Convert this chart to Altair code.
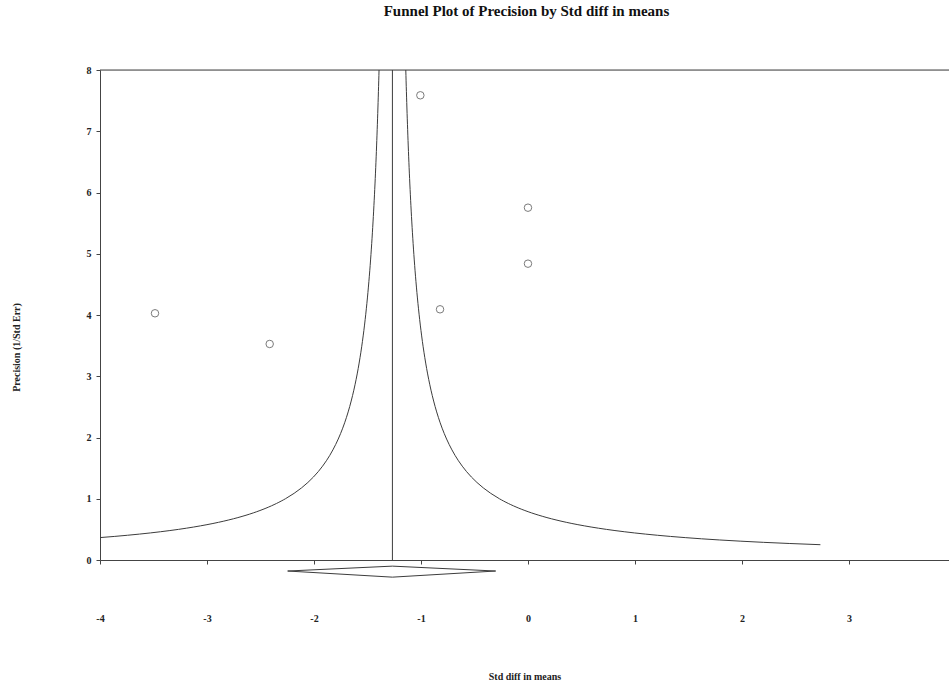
import altair as alt
import pandas as pd
import numpy as np

# Study points
std_diff = [-3.486, -2.414, -1.006, -0.822, 0.0, 0.0]
precision = [4.028, 3.527, 7.587, 4.093, 5.752, 4.838]

# Combined effect (centre of funnel / diamond)
combined = -1.267
ci_low, ci_high = -2.246, -0.302
limit = 1.0  # funnel half-width at precision 1

x_ticks = [-4, -3, -2, -1, 0, 1, 2, 3]
y_ticks = [0, 1, 2, 3, 4, 5, 6, 7, 8]

FONT = "Liberation Serif"
LINE = "#3c3c3c"

pts = pd.DataFrame({"x": std_diff, "y": precision})

# funnel sampling grid of precision values
p_grid = np.concatenate([np.linspace(0.25, 1.0, 40), np.linspace(1.0, 8.0, 80)[1:]])
funnel = pd.concat([
    pd.DataFrame({"p": p_grid, "side": "left"}),
    pd.DataFrame({"p": p_grid, "side": "right"}),
])

diamond = pd.DataFrame({
    "x": [ci_low, combined, ci_high, combined, ci_low],
    "y": [-0.18, -0.10, -0.18, -0.28, -0.18],
    "o": [0, 1, 2, 3, 4],
})

xs = alt.Scale(domain=[-4, 3.935], nice=False, zero=False)
ys = alt.Scale(domain=[0, 8], nice=False, zero=False)

xaxis = alt.Axis(values=x_ticks, title="Std diff in means", grid=False,
                 labelExpr="datum.value + ''",
                 tickSize=4, labelPadding=49, labelFontSize=10, labelFont=FONT,
                 labelFontWeight="bold", labelColor="#222", titleFont=FONT,
                 titleFontSize=10, titleFontWeight="bold", titleColor="#222",
                 titleY=116, titleBaseline="middle", domainColor="#444",
                 tickColor="#444", labelFlush=False)
yaxis = alt.Axis(values=y_ticks, title="Precision (1/Std Err)", grid=False,
                 labelExpr="datum.value + ''",
                 tickSize=4, labelPadding=5, labelFontSize=10, labelFont=FONT,
                 labelFontWeight="bold", labelColor="#222", titleFont=FONT,
                 titleFontSize=10, titleFontWeight="bold", titleColor="#222",
                 titleX=-84, titleY=277, titleBaseline="middle", domainColor="#444",
                 tickColor="#444", labelFlush=False)

base_pts = alt.Chart(pts).mark_point(shape="circle", filled=False, size=56,
                                     color="#444", strokeWidth=1).encode(
    x=alt.X("x:Q", scale=xs, axis=xaxis),
    y=alt.Y("y:Q", scale=ys, axis=yaxis),
)

funnel_lines = alt.Chart(funnel).transform_calculate(
    x=f"datum.side == 'left' ? {combined} - {limit}/datum.p : {combined} + {limit}/datum.p"
).mark_line(color=LINE, strokeWidth=1, clip=True).encode(
    x=alt.X("x:Q", scale=xs),
    y=alt.Y("p:Q", scale=ys),
    detail="side:N",
    order="p:Q",
)

center = alt.Chart(pd.DataFrame({"x": [combined], "y": [0], "y2": [8]})).mark_rule(
    color=LINE, strokeWidth=1).encode(
    x=alt.X("x:Q", scale=xs), y=alt.Y("y:Q", scale=ys), y2="y2:Q")

top = alt.Chart(pd.DataFrame({"y": [8]})).mark_rule(color="#444", strokeWidth=1).encode(
    y=alt.Y("y:Q", scale=ys), x=alt.value(0), x2=alt.value(849))

dia = alt.Chart(diamond).mark_line(color=LINE, strokeWidth=1).encode(
    x=alt.X("x:Q", scale=xs), y=alt.Y("y:Q", scale=ys), order="o:Q")

chart = alt.layer(top, funnel_lines, center, dia, base_pts).properties(
    width=849, height=490,
    title=alt.TitleParams("Funnel Plot of Precision by Std diff in means", font=FONT,
                          fontSize=15, fontWeight="bold", color="#111", offset=46,
                          dx=2, anchor="middle"),
    autosize=alt.AutoSizeParams(type="none"),
    padding={"left": 100, "top": 70, "right": 0, "bottom": 126},
).configure_view(stroke=None).configure(background="white")

chart.save("out.html", embed_options={"renderer": "svg", "actions": False})
